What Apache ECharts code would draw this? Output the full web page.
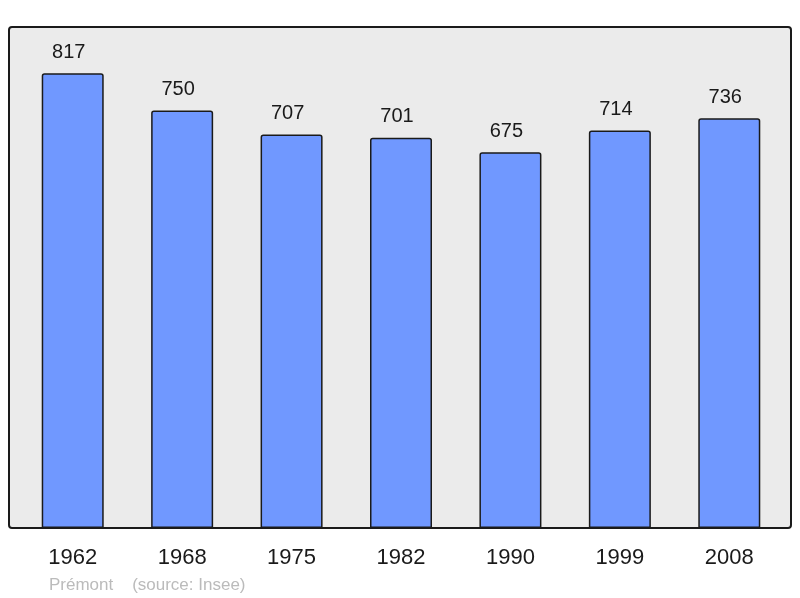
<!DOCTYPE html>
<html><head><meta charset="utf-8">
<script src="https://cdn.jsdelivr.net/npm/echarts@6/dist/echarts.min.js"></script>
<style>html,body{margin:0;padding:0;background:#fff}#c{width:800px;height:598px}</style>
</head><body><div id="c"></div>
<script>
const years = ['1962','1968','1975','1982','1990','1999','2008'];
const population = [817, 750, 707, 701, 675, 714, 736];
const footer = 'Prémont    (source: Insee)';

const chart = echarts.init(document.getElementById('c'), null, {renderer: 'canvas'});
chart.setOption({
  animation: false,
  textStyle: {fontFamily: 'Liberation Sans'},
  grid: {left: 18, right: 16, top: 27, bottom: 70},
  graphic: [
    {type: 'rect', z: -10, shape: {x: 9, y: 27, width: 782, height: 501, r: 3},
     style: {fill: '#ebebeb', stroke: '#1a1a1a', lineWidth: 2}},
    {type: 'text', left: 49, top: 577,
     style: {text: footer, fill: '#bbbbbb', font: '17px "Liberation Sans"'}}
  ],
  xAxis: {
    type: 'category', data: years,
    axisLine: {show: false}, axisTick: {show: false},
    axisLabel: {color: '#1a1a1a', fontSize: 22, margin: 19}
  },
  yAxis: {
    type: 'value', min: 0, max: 900,
    show: false, splitLine: {show: false}
  },
  series: [{
    type: 'bar', data: population, barWidth: 62,
    itemStyle: {color: '#7098ff', borderColor: '#1a1a1a', borderWidth: 1.5, borderRadius: [2,2,0,0]},
    label: {show: true, position: 'top', distance: 11, offset: [-4, 0], color: '#1a1a1a', fontSize: 20}
  }]
});
</script></body></html>
